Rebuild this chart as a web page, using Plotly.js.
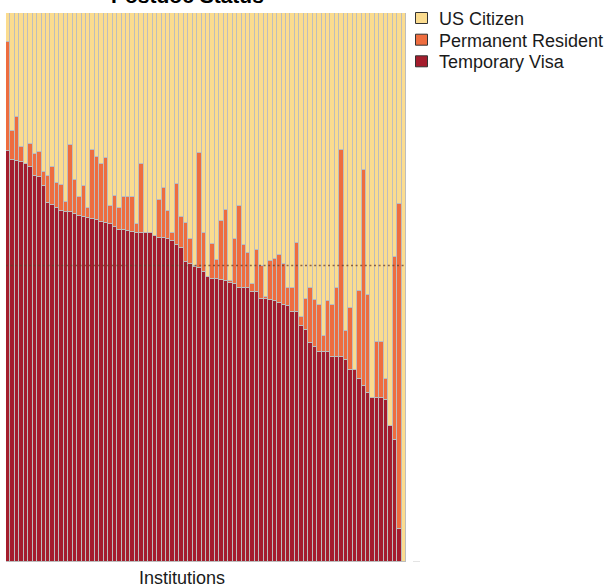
<!DOCTYPE html>
<html>
<head>
<meta charset="utf-8">
<script src="https://cdn.plot.ly/plotly-3.0.1.min.js"></script>
<style>
  html, body { margin: 0; padding: 0; background: #ffffff; }
  #chart { width: 610px; height: 587px; }
</style>
</head>
<body>
<div id="chart"></div>
<script>
// ---------- DATA (percent of postdocs per institution) ----------
const chartTitle = 'Postdoc Status';
const xAxisTitle = 'Institutions';

const seriesNames = ['Temporary Visa', 'Permanent Resident', 'US Citizen'];
const seriesColors = ['#A41D2D', '#EE6D3F', '#FBDC8F'];

const tempVisa = [
  74.8, 73.3, 73.1, 72.9, 72.5, 72.0, 70.4, 70.2, 68.4, 65.4,
  65.0, 64.4, 64.0, 63.8, 63.8, 63.4, 63.0, 62.9, 62.7, 62.5,
  62.3, 61.9, 61.7, 61.5, 61.1, 60.5, 60.5, 60.3, 60.1, 59.9,
  59.9, 59.9, 59.9, 59.3, 59.0, 59.0, 58.8, 58.4, 57.8, 57.2,
  54.7, 54.3, 53.8, 53.5, 52.8, 52.0, 51.6, 51.6, 51.4, 51.2,
  50.8, 50.6, 50.0, 50.0, 50.0, 49.2, 49.2, 47.9, 47.9, 47.7,
  47.6, 47.2, 46.8, 46.6, 45.6, 45.5, 43.0, 42.3, 39.9, 39.1,
  38.3, 38.3, 38.2, 37.4, 37.4, 37.4, 36.8, 35.0, 35.0, 33.3,
  32.0, 30.7, 29.9, 29.9, 29.9, 29.5, 24.7, 22.2, 6.1, 0.0
];

const permanentResident = [
  19.9, 5.2, 8.0, 2.7, 0.0, 4.2, 3.9, 4.5, 2.7, 4.9,
  7.0, 4.6, 4.6, 1.8, 12.2, 6.1, 3.5, 5.6, 1.7, 12.5,
  11.4, 10.6, 11.9, 3.3, 5.5, 4.0, 5.9, 6.1, 6.3, 1.6,
  12.6, 0.0, 0.0, 0.0, 7.0, 9.1, 5.2, 1.5, 11.1, 5.7,
  7.0, 4.6, 0.1, 21.0, 7.1, 0.0, 6.4, 3.5, 10.8, 13.0,
  0.3, 8.2, 14.9, 7.8, 6.3, 1.4, 7.6, 6.1, 0.4, 7.2,
  7.6, 8.8, 7.4, 3.3, 4.4, 12.6, 1.6, 5.6, 10.0, 8.6,
  8.5, 2.9, 9.4, 9.4, 12.5, 37.6, 5.3, 11.3, 0.0, 16.0,
  39.4, 17.9, 0.0, 10.1, 10.1, 3.8, 0.0, 33.3, 59.1, 0.0
];

const usCitizen = [
  5.3, 21.5, 18.9, 24.4, 27.5, 23.8, 25.7, 25.3, 28.9, 29.7,
  28.0, 31.0, 31.4, 34.4, 24.0, 30.5, 33.5, 31.5, 35.6, 25.0,
  26.3, 27.5, 26.4, 35.2, 33.4, 35.5, 33.6, 33.6, 33.6, 38.5,
  27.5, 40.1, 40.1, 40.7, 34.0, 31.9, 36.0, 40.1, 31.1, 37.1,
  38.3, 41.1, 46.1, 25.5, 40.1, 48.0, 42.0, 44.9, 37.8, 35.8,
  48.9, 41.2, 35.1, 42.2, 43.7, 49.4, 43.2, 46.0, 51.7, 45.1,
  44.8, 44.0, 45.8, 50.1, 50.0, 41.9, 55.4, 52.1, 50.1, 52.3,
  53.2, 58.8, 52.4, 53.2, 50.1, 25.0, 57.9, 53.7, 65.0, 50.7,
  28.6, 51.4, 70.1, 60.0, 60.0, 66.7, 75.3, 44.5, 34.8, 100.0
];

// overall share of postdocs on temporary visas (reference line)
const overallTempVisaShare = 54.0;

const institutions = tempVisa.map((_, i) => 'Institution ' + (i + 1));

// ---------- LAYOUT HELPERS ----------
const W = 610, H = 587;
const M = { l: 6, r: 204, t: 13, b: 25 };
const PW = W - M.l - M.r, PH = H - M.t - M.b;
const px2x = p => (p - M.l) / PW;
const px2y = p => (H - M.b - p) / PH;

const FONT = '"Liberation Sans", Arial, Helvetica, sans-serif';
const outline = { color: '#bdbdbd', width: 1 };

const seriesValues = [tempVisa, permanentResident, usCitizen];

const traces = seriesNames.map((name, k) => ({
  type: 'bar',
  name: name,
  x: institutions,
  y: seriesValues[k],
  marker: { color: seriesColors[k], line: outline },
  showlegend: false,
  hovertemplate: '%{x}<br>' + name + ': %{y:.1f}%<extra></extra>'
}));

// manual legend (top to bottom: US Citizen, Permanent Resident, Temporary Visa)
const legendRows = [2, 1, 0];
const legendSwatchY = [18, 39.7, 61.3];
const legendTextY = [18.8, 40.5, 62.1];

const shapes = [
  {
    type: 'line', xref: 'paper', yref: 'y',
    x0: 0, x1: 1, y0: overallTempVisaShare, y1: overallTempVisaShare,
    line: { color: 'rgba(105,60,40,0.75)', width: 1.5, dash: '2px,2.6px' },
    layer: 'above'
  },
  {
    type: 'line', xref: 'paper', yref: 'y',
    x0: px2x(413), x1: px2x(420), y0: 0, y1: 0,
    line: { color: '#c8c8c8', width: 1 }
  }
];

const annotations = [
  {
    text: '<b>' + chartTitle + '</b>', showarrow: false,
    xref: 'paper', yref: 'paper', x: px2x(187.5), y: px2y(-4.0),
    xanchor: 'center', yanchor: 'middle',
    font: { family: FONT, size: 21, color: '#000000' }
  },
  {
    text: xAxisTitle, showarrow: false,
    xref: 'paper', yref: 'paper', x: px2x(181.5), y: px2y(577.8),
    xanchor: 'center', yanchor: 'middle',
    font: { family: FONT, size: 18, color: '#1a1a1a' }
  }
];

legendRows.forEach((k, i) => {
  shapes.push({
    type: 'rect', xref: 'paper', yref: 'paper',
    x0: px2x(415.5), x1: px2x(427.5),
    y0: px2y(legendSwatchY[i] + 5.5), y1: px2y(legendSwatchY[i] - 5.5),
    fillcolor: seriesColors[k], line: { color: '#333333', width: 1 }
  });
  annotations.push({
    text: seriesNames[k], showarrow: false,
    xref: 'paper', yref: 'paper', x: px2x(436.5), y: px2y(legendTextY[i]),
    xanchor: 'left', yanchor: 'middle',
    font: { family: FONT, size: 18, color: '#1a1a1a' }
  });
});

const layout = {
  width: W, height: H,
  margin: { l: M.l, r: M.r, t: M.t, b: M.b, pad: 0 },
  paper_bgcolor: '#ffffff', plot_bgcolor: '#ffffff',
  barmode: 'stack', bargap: 0,
  showlegend: false,
  font: { family: FONT, color: '#1a1a1a' },
  xaxis: { visible: false, range: [-0.5, institutions.length - 0.5], fixedrange: true },
  yaxis: { visible: false, range: [0, 100], fixedrange: true },
  shapes: shapes,
  annotations: annotations
};

Plotly.newPlot('chart', traces, layout, { displayModeBar: false, responsive: false });
</script>
</body>
</html>
